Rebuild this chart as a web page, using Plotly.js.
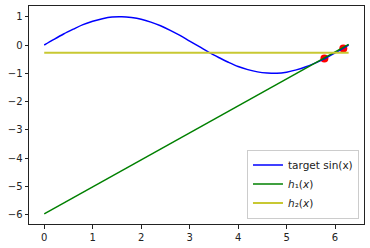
<!DOCTYPE html>
<html><head><meta charset="utf-8">
<script src="https://cdn.plot.ly/plotly-3.0.1.min.js"></script>
<style>html,body{margin:0;padding:0;background:#fff}</style>
</head><body><div id="c" style="width:370px;height:248px"></div>
<script>
const sinX = [0,0.2,0.4,0.6,0.8,1.0,1.2,1.4,1.6,1.8,2.0,2.2,2.4,2.6,2.8,3.0,3.2,3.4,3.6,3.8,4.0,4.2,4.4,4.6,4.8,5.0,5.2,5.4,5.6,5.8,6.0,6.2,6.28];
const sinY = [0,0.2,0.39,0.56,0.72,0.84,0.93,0.99,1.0,0.97,0.91,0.81,0.68,0.52,0.34,0.14,-0.06,-0.26,-0.44,-0.61,-0.76,-0.87,-0.95,-0.99,-1.0,-0.96,-0.88,-0.77,-0.63,-0.47,-0.28,-0.08,0];
const h1X = [0, 6.28];
const h1Y = [-5.97, 0.02];
const h2X = [0, 6.28];
const h2Y = [-0.27, -0.27];
const ptX = [5.78, 6.17];
const ptY = [-0.48, -0.12];
const names = ['target sin(x)', '<i>h</i>\u2081(<i>x</i>)', '<i>h</i>\u2082(<i>x</i>)'];

const traces = [
  {x: ptX, y: ptY, mode:'markers', marker:{color:'red', size:8}, showlegend:false},
  {x: sinX, y: sinY, mode:'lines', line:{color:'blue', width:1.5, shape:'spline'}, name:names[0]},
  {x: h1X, y: h1Y, mode:'lines', line:{color:'green', width:1.5}, name:names[1]},
  {x: h2X, y: h2Y, mode:'lines', line:{color:'#c8c832', width:2}, name:names[2]}
];
const ax = {showgrid:false, zeroline:false, showline:true, mirror:true, linecolor:'#222', linewidth:1,
  ticks:'outside', ticklen:3.5, tickcolor:'#222', tickfont:{size:10, color:'#222'}};
const layout = {
  width:370, height:248, margin:{l:29, r:6, t:6, b:24},
  paper_bgcolor:'#fff', plot_bgcolor:'#fff',
  font:{family:'DejaVu Sans', size:10, color:'#222'},
  xaxis: Object.assign({}, ax, {range:[-0.314, 6.597], tickmode:'array', tickvals:[0,1,2,3,4,5,6]}),
  yaxis: Object.assign({}, ax, {range:[-6.33, 1.38], tickmode:'array', tickvals:[-6,-5,-4,-3,-2,-1,0,1]}),
  legend:{x:0.985, y:0.025, xanchor:'right', yanchor:'bottom', bgcolor:'#fff', bordercolor:'#ccc', borderwidth:1,
    font:{size:10.5}, tracegroupgap:0, itemwidth:30}
};
Plotly.newPlot('c', traces, layout, {staticPlot:true});
</script></body></html>
